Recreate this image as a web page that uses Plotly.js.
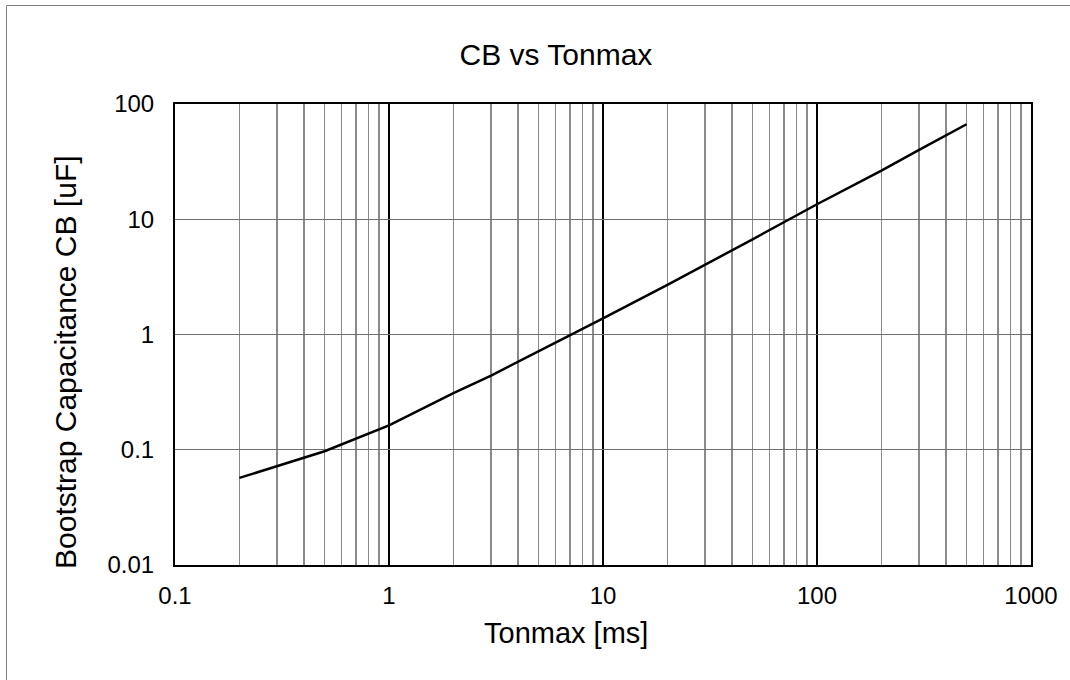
<!DOCTYPE html>
<html>
<head>
<meta charset="utf-8">
<script src="https://cdn.plot.ly/plotly-3.0.1.min.js"></script>
<style>html,body{margin:0;padding:0;background:#fff;}#chart{width:1070px;height:680px;}</style>
</head>
<body>
<div id="chart"></div>
<script>
const tonmax = [0.2, 0.3, 0.5, 1, 2, 3, 5, 10, 20, 30, 50, 100, 200, 300, 500];
const cb = [0.057, 0.072, 0.097, 0.163, 0.31, 0.44, 0.71, 1.38, 2.69, 4.0, 6.7, 13.5, 26.4, 40, 66.7];
const xTickVals = [0.1, 1, 10, 100, 1000];
const xTickText = ['0.1', '1', '10', '100', '1000'];
const yTickVals = [0.01, 0.1, 1, 10, 100];
const yTickText = ['0.01', '0.1', '1', '10', '100'];
const titleText = 'CB vs Tonmax';
const xTitle = 'Tonmax [ms]';
const yTitle = 'Bootstrap Capacitance CB [uF]';

const FONT = 'Liberation Sans, Arial, Helvetica, sans-serif';

const trace = {
  x: tonmax, y: cb, type: 'scatter', mode: 'lines',
  line: {color: '#000000', width: 2.5}, hoverinfo: 'x+y'
};

const layout = {
  width: 1070, height: 680,
  margin: {l: 175, r: 39, t: 104, b: 115, pad: 0},
  paper_bgcolor: '#ffffff', plot_bgcolor: '#ffffff',
  font: {family: FONT, color: '#000000', size: 24},
  showlegend: false,
  title: {text: titleText, font: {family: FONT, size: 30, color: '#000'},
          xref: 'paper', x: 0.445, xanchor: 'center',
          yref: 'container', y: 1 - 54/680, yanchor: 'middle'},
  xaxis: {
    type: 'log', range: [-1, 3], tickmode: 'array', tickvals: xTickVals, ticktext: xTickText,
    ticks: '', showgrid: true, gridcolor: '#000000', gridwidth: 1.5,
    minor: {dtick: 'D1', showgrid: true, gridcolor: '#8a8a8a', gridwidth: 1.5, ticks: ''},
    showline: true, mirror: true, linecolor: '#000000', linewidth: 2,
    zeroline: false, tickfont: {size: 24, family: FONT, color: '#000'}, ticklabelstandoff: 8
  },
  yaxis: {
    type: 'log', range: [-2, 2], tickmode: 'array', tickvals: yTickVals, ticktext: yTickText,
    ticks: '', showgrid: true, gridcolor: '#707070', gridwidth: 1,
    showline: true, mirror: true, linecolor: '#000000', linewidth: 2,
    zeroline: false, tickfont: {size: 24, family: FONT, color: '#000'}, ticklabelstandoff: 14
  },
  annotations: [
    {text: xTitle, xref: 'paper', yref: 'paper', x: (566-175)/856, y: (565-633)/461,
     xanchor: 'center', yanchor: 'middle', showarrow: false, font: {family: FONT, size: 29, color: '#000'}},
    {text: yTitle, xref: 'paper', yref: 'paper', x: (65-175)/856, y: (565-362)/461,
     xanchor: 'center', yanchor: 'middle', textangle: -90, showarrow: false, font: {family: FONT, size: 30, color: '#000'}}
  ],
  shapes: [
    {type: 'rect', xref: 'paper', yref: 'paper', x0: (6.5-175)/856, x1: 1.2, y0: -0.4, y1: (565-5.5)/461,
     line: {color: '#808080', width: 1}, fillcolor: 'rgba(0,0,0,0)', layer: 'below'}
  ]
};

Plotly.newPlot('chart', [trace], layout, {displayModeBar: false, staticPlot: true});
</script>
</body>
</html>
